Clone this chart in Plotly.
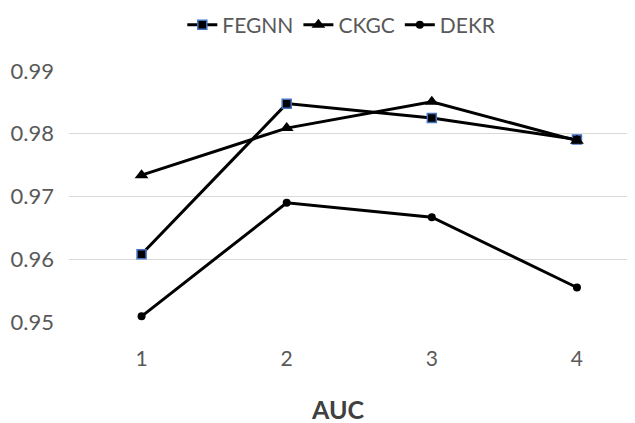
import plotly.graph_objects as go

categories = [1, 2, 3, 4]
fegnn = [0.9608, 0.9848, 0.9825, 0.9791]
ckgc = [0.9734, 0.9809, 0.9851, 0.9789]
dekr = [0.9509, 0.9690, 0.9667, 0.9555]
y_ticks = [0.95, 0.96, 0.97, 0.98, 0.99]
y_tick_labels = ["0.95", "0.96", "0.97", "0.98", "0.99"]

FONT = "Lato, 'Open Sans', sans-serif"

fig = go.Figure()
fig.add_trace(go.Scatter(
    x=categories, y=fegnn, name="FEGNN", mode="lines+markers",
    line=dict(color="black", width=3),
    marker=dict(symbol="square", size=9, color="black",
                line=dict(color="#4472C4", width=1.5)),
))
fig.add_trace(go.Scatter(
    x=categories, y=ckgc, name="CKGC", mode="lines+markers",
    line=dict(color="black", width=3),
    marker=dict(symbol="triangle-up", size=12, color="black"),
))
fig.add_trace(go.Scatter(
    x=categories, y=dekr, name="DEKR", mode="lines+markers",
    line=dict(color="black", width=3),
    marker=dict(symbol="circle", size=8, color="black"),
))

# page body has an 8px default margin, so the figure is offset by 8px
fig.update_layout(
    width=627, height=415,
    margin=dict(l=61, r=0, t=63, b=101, autoexpand=False),
    paper_bgcolor="white", plot_bgcolor="white",
    font=dict(family=FONT, size=21, color="#595959"),
    showlegend=True,
    legend=dict(orientation="h", x=0.482, xanchor="center",
                y=(322 - 25) / 251, yanchor="middle",
                font=dict(size=21, color="#595959"),
                itemwidth=30, tracegroupgap=0),
    xaxis=dict(
        range=[0.5, 4.4], tickmode="array", tickvals=categories,
        ticktext=[str(c) for c in categories],
        showgrid=False, zeroline=False, showline=False,
        ticks="", ticklabelstandoff=22, automargin=False,
        tickfont=dict(size=21, color="#595959"),
    ),
    yaxis=dict(
        range=[0.95, 0.99], tickmode="array", tickvals=y_ticks,
        ticktext=y_tick_labels,
        showgrid=True, gridcolor="#d9d9d9", gridwidth=1,
        zeroline=False, showline=False, ticks="",
        ticklabelstandoff=14, automargin=False,
        tickfont=dict(size=22, color="#595959"),
    ),
    annotations=[dict(
        text="<b>AUC</b>", xref="paper", yref="paper",
        x=(337 - 69) / 566, y=(322 - 409) / 251,
        xanchor="center", yanchor="middle", showarrow=False,
        font=dict(family=FONT, size=25, color="#404040"),
    )],
)

fig.write_html("out.html")
